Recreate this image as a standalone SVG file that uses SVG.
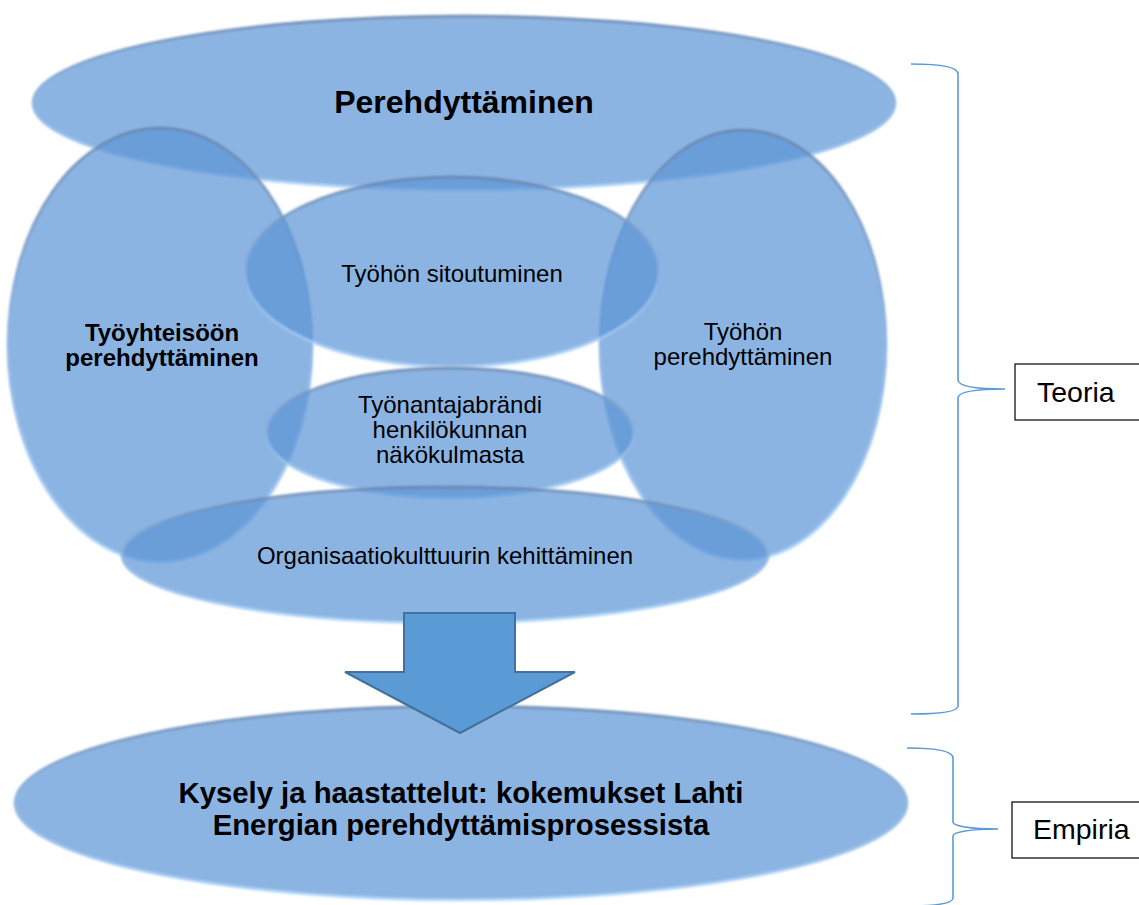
<svg xmlns="http://www.w3.org/2000/svg" width="1139" height="905" viewBox="0 0 1139 905">
<style>
.el{fill:#5b94d6;fill-opacity:0.7;stroke:url(#rim);stroke-width:3;stroke-opacity:0.8;filter:url(#soft)}
.t{font-family:"Liberation Sans",Arial,sans-serif;font-size:24px;fill:#000;text-anchor:middle}
.b{font-weight:bold}
.brace{fill:none;stroke:#5b9bd5;stroke-width:1.6}
.box{fill:#fff;stroke:#000;stroke-width:1.2}
.lbl{font-family:"Liberation Sans",Arial,sans-serif;font-size:28.5px;fill:#000}
</style>
<defs>
<linearGradient id="rim" x1="0" y1="0" x2="0" y2="1">
<stop offset="0" stop-color="#6584ab"/>
<stop offset="0.5" stop-color="#8ab3e2"/>
<stop offset="1" stop-color="#b0d9ff"/>
</linearGradient>
<filter id="soft" x="-5%" y="-5%" width="110%" height="110%"><feGaussianBlur stdDeviation="0.9"/></filter>
</defs>
<rect width="1139" height="905" fill="#fff"/>
<g id="perehdyttaminen">
<ellipse class="el" cx="464" cy="103" rx="431" ry="87"/>
<text class="t b" x="464" y="113" style="font-size:32px">Perehdyttäminen</text>
</g>
<g id="tyoyhteisoon">
<ellipse class="el" cx="160" cy="345" rx="152" ry="217"/>
<text class="t b" x="162" y="341">Työyhteisöön</text>
<text class="t b" x="162" y="366">perehdyttäminen</text>
</g>
<g id="tyohon-perehdyttaminen">
<ellipse class="el" cx="743" cy="345" rx="143" ry="215"/>
<text class="t" x="743" y="340">Työhön</text>
<text class="t" x="743" y="365">perehdyttäminen</text>
</g>
<g id="sitoutuminen">
<ellipse class="el" cx="452" cy="272" rx="207" ry="95"/>
<text class="t" x="452" y="282">Työhön sitoutuminen</text>
</g>
<g id="tyonantajabrandi">
<ellipse class="el" cx="450" cy="433" rx="184" ry="65"/>
<text class="t" x="450" y="413">Työnantajabrändi</text>
<text class="t" x="450" y="438">henkilökunnan</text>
<text class="t" x="450" y="463">näkökulmasta</text>
</g>
<g id="organisaatiokulttuuri">
<ellipse class="el" cx="445" cy="555" rx="323" ry="68"/>
<text class="t" x="445" y="564">Organisaatiokulttuurin kehittäminen</text>
</g>
<g id="kysely">
<ellipse class="el" cx="461" cy="803" rx="446" ry="97"/>
<text class="t b" x="461" y="803" style="font-size:29.3px">Kysely ja haastattelut: kokemukset Lahti</text>
<text class="t b" x="461" y="835" style="font-size:29.3px">Energian perehdyttämisprosessista</text>
</g>
<g id="connectors">
<polygon points="404,613 515,613 515,672 575,672 460,733 345,672 404,672" fill="#5b9bd5" stroke="#41719c" stroke-width="2" stroke-linejoin="miter"/>
<path class="brace" d="M911 64 C940 64 958 67 958 74 L958 380 C958 386 975 389 1005 389 C975 389 958 392 958 398 L958 706 C958 712 940 714 911 714"/>
<path class="brace" d="M907 748 C935 748 953 751 953 758 L953 822 C953 826 970 829 998 829 C970 829 953 832 953 836 L953 898 C953 904 935 906 907 906"/>
</g>
<g id="teoria">
<rect class="box" x="1015" y="364" width="140" height="56"/>
<text class="lbl" x="1037" y="402">Teoria</text>
</g>
<g id="empiria">
<rect class="box" x="1012" y="802" width="140" height="56"/>
<text class="lbl" x="1033" y="839">Empiria</text>
</g>
</svg>
